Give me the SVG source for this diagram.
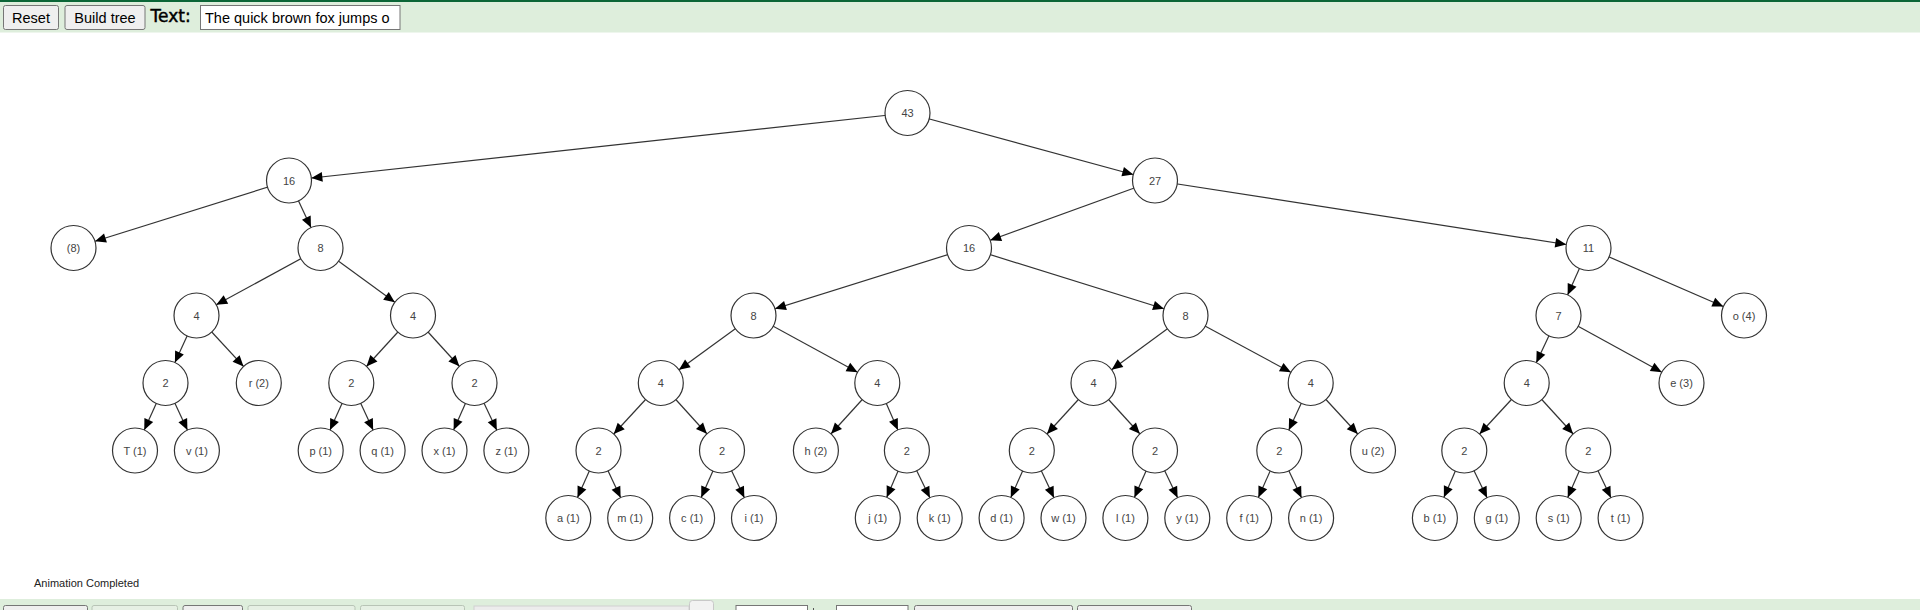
<svg xmlns="http://www.w3.org/2000/svg" width="1920" height="610" viewBox="0 0 1920 610">
<defs>
<style>
.node circle{fill:#fff;stroke:#333;stroke-width:1.2}
.node text{font-family:"Liberation Sans",Arial,sans-serif;font-size:11px;fill:#444;text-anchor:middle}
#edges line{stroke:#333;stroke-width:1.2;marker-end:url(#arr)}
.btn{fill:#efefef;stroke:#767676;stroke-width:1}
.btnd{fill:#e6f0e4;stroke:#b8c4b6;stroke-width:1}
.ui{font-family:"Liberation Sans",Arial,sans-serif;font-size:14.5px;fill:#000}
</style>
<marker id="arr" markerUnits="userSpaceOnUse" markerWidth="12" markerHeight="10" refX="22.5" refY="0" orient="auto" overflow="visible">
<path d="M-11,-4.8 L0,0 L-11,4.8 Z" fill="#000"/>
</marker>
<clipPath id="inclip"><rect x="201" y="6" width="197" height="23"/></clipPath>
</defs>
<rect width="1920" height="610" fill="#fff"/>
<g id="toolbar">
<rect x="0" y="0" width="1920" height="32.5" fill="#deeedc"/>
<rect x="0" y="0" width="1920" height="2" fill="#0b6637"/>
<rect class="btn" x="3.5" y="5.5" width="55" height="24" rx="2"/>
<text class="ui" x="31" y="22.5" text-anchor="middle">Reset</text>
<rect class="btn" x="65" y="5.5" width="80" height="24" rx="2"/>
<text class="ui" x="105" y="22.5" text-anchor="middle">Build tree</text>
<text x="150.5" y="21.5" font-family="DejaVu Sans,sans-serif" font-size="17" fill="#000" stroke="#000" stroke-width="0.45">Text:</text>
<rect x="200.5" y="5.5" width="199.5" height="24" fill="#fff" stroke="#767676"/>
<text class="ui" x="205" y="22.5" font-size="15.4" clip-path="url(#inclip)">The quick brown fox jumps o</text>
</g>
<g id="edges">
<line x1="907.5" y1="113" x2="289" y2="180.5"/>
<line x1="907.5" y1="113" x2="1155" y2="180.5"/>
<line x1="289" y1="180.5" x2="73.5" y2="248"/>
<line x1="289" y1="180.5" x2="320.5" y2="248"/>
<line x1="320.5" y1="248" x2="196.5" y2="315.5"/>
<line x1="320.5" y1="248" x2="413" y2="315.5"/>
<line x1="196.5" y1="315.5" x2="165.5" y2="383"/>
<line x1="196.5" y1="315.5" x2="258.8" y2="383"/>
<line x1="165.5" y1="383" x2="135" y2="450.5"/>
<line x1="165.5" y1="383" x2="196.9" y2="450.5"/>
<line x1="413" y1="315.5" x2="351.3" y2="383"/>
<line x1="413" y1="315.5" x2="474.5" y2="383"/>
<line x1="351.3" y1="383" x2="320.7" y2="450.5"/>
<line x1="351.3" y1="383" x2="382.6" y2="450.5"/>
<line x1="474.5" y1="383" x2="444.5" y2="450.5"/>
<line x1="474.5" y1="383" x2="506.4" y2="450.5"/>
<line x1="1155" y1="180.5" x2="969" y2="248"/>
<line x1="1155" y1="180.5" x2="1588.5" y2="248"/>
<line x1="969" y1="248" x2="753.5" y2="315.5"/>
<line x1="969" y1="248" x2="1185.5" y2="315.5"/>
<line x1="753.5" y1="315.5" x2="660.8" y2="383"/>
<line x1="753.5" y1="315.5" x2="877.3" y2="383"/>
<line x1="660.8" y1="383" x2="598.5" y2="450.5"/>
<line x1="660.8" y1="383" x2="722" y2="450.5"/>
<line x1="598.5" y1="450.5" x2="568.3" y2="518"/>
<line x1="598.5" y1="450.5" x2="630.2" y2="518"/>
<line x1="722" y1="450.5" x2="692.1" y2="518"/>
<line x1="722" y1="450.5" x2="754" y2="518"/>
<line x1="877.3" y1="383" x2="815.9" y2="450.5"/>
<line x1="877.3" y1="383" x2="906.9" y2="450.5"/>
<line x1="906.9" y1="450.5" x2="877.8" y2="518"/>
<line x1="906.9" y1="450.5" x2="939.7" y2="518"/>
<line x1="1185.5" y1="315.5" x2="1093.5" y2="383"/>
<line x1="1185.5" y1="315.5" x2="1310.7" y2="383"/>
<line x1="1093.5" y1="383" x2="1031.8" y2="450.5"/>
<line x1="1093.5" y1="383" x2="1155" y2="450.5"/>
<line x1="1031.8" y1="450.5" x2="1001.6" y2="518"/>
<line x1="1031.8" y1="450.5" x2="1063.5" y2="518"/>
<line x1="1155" y1="450.5" x2="1125.4" y2="518"/>
<line x1="1155" y1="450.5" x2="1187.3" y2="518"/>
<line x1="1310.7" y1="383" x2="1279.3" y2="450.5"/>
<line x1="1310.7" y1="383" x2="1373" y2="450.5"/>
<line x1="1279.3" y1="450.5" x2="1249.2" y2="518"/>
<line x1="1279.3" y1="450.5" x2="1311.1" y2="518"/>
<line x1="1588.5" y1="248" x2="1558.5" y2="315.5"/>
<line x1="1588.5" y1="248" x2="1744" y2="315.5"/>
<line x1="1558.5" y1="315.5" x2="1526.7" y2="383"/>
<line x1="1558.5" y1="315.5" x2="1681.5" y2="383"/>
<line x1="1526.7" y1="383" x2="1464.3" y2="450.5"/>
<line x1="1526.7" y1="383" x2="1588.3" y2="450.5"/>
<line x1="1464.3" y1="450.5" x2="1434.9" y2="518"/>
<line x1="1464.3" y1="450.5" x2="1496.8" y2="518"/>
<line x1="1588.3" y1="450.5" x2="1558.7" y2="518"/>
<line x1="1588.3" y1="450.5" x2="1620.6" y2="518"/>
</g>
<g id="nodes">
<g id="n43" class="node" transform="translate(907.5,113)"><circle r="22.5"/><text y="4">43</text></g>
<g id="n16a" class="node" transform="translate(289,180.5)"><circle r="22.5"/><text y="4">16</text></g>
<g id="n27" class="node" transform="translate(1155,180.5)"><circle r="22.5"/><text y="4">27</text></g>
<g id="nsp" class="node" transform="translate(73.5,248)"><circle r="22.5"/><text y="4">(8)</text></g>
<g id="n8a" class="node" transform="translate(320.5,248)"><circle r="22.5"/><text y="4">8</text></g>
<g id="n16b" class="node" transform="translate(969,248)"><circle r="22.5"/><text y="4">16</text></g>
<g id="n11" class="node" transform="translate(1588.5,248)"><circle r="22.5"/><text y="4">11</text></g>
<g id="n4a" class="node" transform="translate(196.5,315.5)"><circle r="22.5"/><text y="4">4</text></g>
<g id="n4b" class="node" transform="translate(413,315.5)"><circle r="22.5"/><text y="4">4</text></g>
<g id="n8b" class="node" transform="translate(753.5,315.5)"><circle r="22.5"/><text y="4">8</text></g>
<g id="n8c" class="node" transform="translate(1185.5,315.5)"><circle r="22.5"/><text y="4">8</text></g>
<g id="n7" class="node" transform="translate(1558.5,315.5)"><circle r="22.5"/><text y="4">7</text></g>
<g id="no" class="node" transform="translate(1744,315.5)"><circle r="22.5"/><text y="4">o (4)</text></g>
<g id="n2a" class="node" transform="translate(165.5,383)"><circle r="22.5"/><text y="4">2</text></g>
<g id="nr" class="node" transform="translate(258.8,383)"><circle r="22.5"/><text y="4">r (2)</text></g>
<g id="n2b" class="node" transform="translate(351.3,383)"><circle r="22.5"/><text y="4">2</text></g>
<g id="n2c" class="node" transform="translate(474.5,383)"><circle r="22.5"/><text y="4">2</text></g>
<g id="n4c" class="node" transform="translate(660.8,383)"><circle r="22.5"/><text y="4">4</text></g>
<g id="n4d" class="node" transform="translate(877.3,383)"><circle r="22.5"/><text y="4">4</text></g>
<g id="n4e" class="node" transform="translate(1093.5,383)"><circle r="22.5"/><text y="4">4</text></g>
<g id="n4f" class="node" transform="translate(1310.7,383)"><circle r="22.5"/><text y="4">4</text></g>
<g id="n4g" class="node" transform="translate(1526.7,383)"><circle r="22.5"/><text y="4">4</text></g>
<g id="ne" class="node" transform="translate(1681.5,383)"><circle r="22.5"/><text y="4">e (3)</text></g>
<g id="nT" class="node" transform="translate(135,450.5)"><circle r="22.5"/><text y="4">T (1)</text></g>
<g id="nv" class="node" transform="translate(196.9,450.5)"><circle r="22.5"/><text y="4">v (1)</text></g>
<g id="np" class="node" transform="translate(320.7,450.5)"><circle r="22.5"/><text y="4">p (1)</text></g>
<g id="nq" class="node" transform="translate(382.6,450.5)"><circle r="22.5"/><text y="4">q (1)</text></g>
<g id="nx" class="node" transform="translate(444.5,450.5)"><circle r="22.5"/><text y="4">x (1)</text></g>
<g id="nz" class="node" transform="translate(506.4,450.5)"><circle r="22.5"/><text y="4">z (1)</text></g>
<g id="n2d" class="node" transform="translate(598.5,450.5)"><circle r="22.5"/><text y="4">2</text></g>
<g id="n2e" class="node" transform="translate(722,450.5)"><circle r="22.5"/><text y="4">2</text></g>
<g id="nh" class="node" transform="translate(815.9,450.5)"><circle r="22.5"/><text y="4">h (2)</text></g>
<g id="n2f" class="node" transform="translate(906.9,450.5)"><circle r="22.5"/><text y="4">2</text></g>
<g id="n2g" class="node" transform="translate(1031.8,450.5)"><circle r="22.5"/><text y="4">2</text></g>
<g id="n2h" class="node" transform="translate(1155,450.5)"><circle r="22.5"/><text y="4">2</text></g>
<g id="n2i" class="node" transform="translate(1279.3,450.5)"><circle r="22.5"/><text y="4">2</text></g>
<g id="nu" class="node" transform="translate(1373,450.5)"><circle r="22.5"/><text y="4">u (2)</text></g>
<g id="n2j" class="node" transform="translate(1464.3,450.5)"><circle r="22.5"/><text y="4">2</text></g>
<g id="n2k" class="node" transform="translate(1588.3,450.5)"><circle r="22.5"/><text y="4">2</text></g>
<g id="na" class="node" transform="translate(568.3,518)"><circle r="22.5"/><text y="4">a (1)</text></g>
<g id="nm" class="node" transform="translate(630.2,518)"><circle r="22.5"/><text y="4">m (1)</text></g>
<g id="nc" class="node" transform="translate(692.1,518)"><circle r="22.5"/><text y="4">c (1)</text></g>
<g id="ni" class="node" transform="translate(754,518)"><circle r="22.5"/><text y="4">i (1)</text></g>
<g id="nj" class="node" transform="translate(877.8,518)"><circle r="22.5"/><text y="4">j (1)</text></g>
<g id="nk" class="node" transform="translate(939.7,518)"><circle r="22.5"/><text y="4">k (1)</text></g>
<g id="nd" class="node" transform="translate(1001.6,518)"><circle r="22.5"/><text y="4">d (1)</text></g>
<g id="nw" class="node" transform="translate(1063.5,518)"><circle r="22.5"/><text y="4">w (1)</text></g>
<g id="nl" class="node" transform="translate(1125.4,518)"><circle r="22.5"/><text y="4">l (1)</text></g>
<g id="ny" class="node" transform="translate(1187.3,518)"><circle r="22.5"/><text y="4">y (1)</text></g>
<g id="nf" class="node" transform="translate(1249.2,518)"><circle r="22.5"/><text y="4">f (1)</text></g>
<g id="nn" class="node" transform="translate(1311.1,518)"><circle r="22.5"/><text y="4">n (1)</text></g>
<g id="nb" class="node" transform="translate(1434.9,518)"><circle r="22.5"/><text y="4">b (1)</text></g>
<g id="ng" class="node" transform="translate(1496.8,518)"><circle r="22.5"/><text y="4">g (1)</text></g>
<g id="ns" class="node" transform="translate(1558.7,518)"><circle r="22.5"/><text y="4">s (1)</text></g>
<g id="nt" class="node" transform="translate(1620.6,518)"><circle r="22.5"/><text y="4">t (1)</text></g>
</g>
<text x="34" y="587" font-family="Liberation Sans,Arial,sans-serif" font-size="11" fill="#222">Animation Completed</text>
<g id="bottombar">
<rect x="0" y="599" width="1920" height="11" fill="#deeedc"/>
<rect class="btn" x="3.5" y="605.5" width="84" height="12" rx="2"/>
<rect class="btnd" x="92" y="605.5" width="85.5" height="12" rx="2"/>
<rect class="btn" x="183" y="605.5" width="59.5" height="12" rx="2"/>
<rect class="btnd" x="248" y="605.5" width="107" height="12" rx="2"/>
<rect class="btnd" x="360.5" y="605.5" width="104" height="12" rx="2"/>
<rect x="474" y="606" width="215" height="12" fill="#ececec" stroke="#d0d0d0"/>
<rect x="689.5" y="600.5" width="24" height="16" rx="3" fill="#f2f2f2" stroke="#c8c8c8"/>
<rect x="736" y="605.5" width="71.5" height="12" fill="#fff" stroke="#767676"/>
<rect x="813" y="608" width="1" height="3" fill="#555"/>
<rect x="836.5" y="605.5" width="71.5" height="12" fill="#fff" stroke="#767676"/>
<rect class="btn" x="914.5" y="605.5" width="158" height="12" rx="2"/>
<rect class="btn" x="1077.5" y="605.5" width="114" height="12" rx="2"/>
</g>
</svg>
